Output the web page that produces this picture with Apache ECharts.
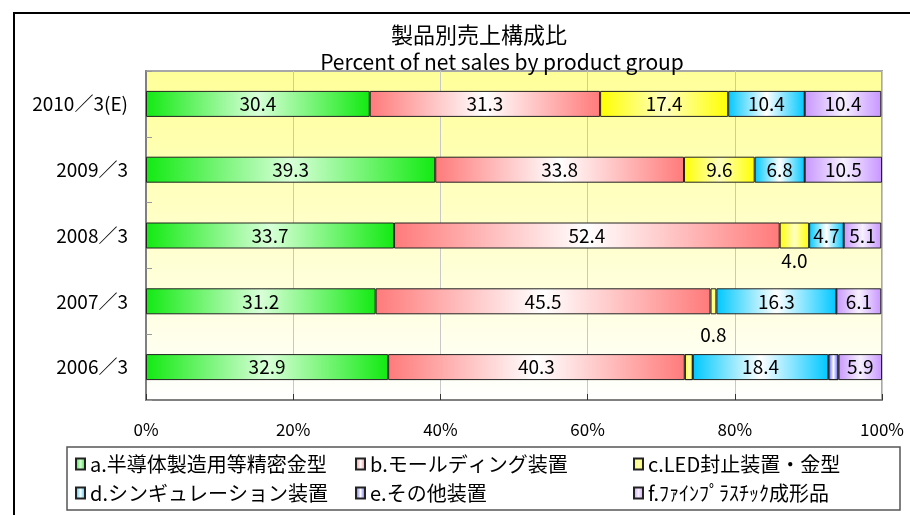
<!DOCTYPE html>
<html>
<head>
    <meta charset="utf-8">
    <script src="https://cdn.jsdelivr.net/npm/echarts@6/dist/echarts.min.js"></script>
</head>
<body style="margin:0">
    <div id="main" style="width: 910px;height:515px;"></div>
    <script type="text/javascript">
        // 年度（下から上へ）
        var years = ['2006／3', '2007／3', '2008／3', '2009／3', '2010／3(E)'];
        var seriesNames = [
            'a.半導体製造用等精密金型',
            'b.モールディング装置',
            'c.LED封止装置・金型',
            'd.シンギュレーション装置',
            'e.その他装置',
            'f.ﾌｧｲﾝﾌﾟﾗｽﾁｯｸ成形品'
        ];
        var valA = [32.9, 31.2, 33.7, 39.3, 30.4];
        var valB = [40.3, 45.5, 52.4, 33.8, 31.3];
        var valC = [1.1, 0.8, 4.0, 9.6, 17.4];
        var valD = [18.4, 16.3, 4.7, 6.8, 10.4];
        var valE = [1.4, 0, 0, 0, 0];
        var valF = [5.9, 6.1, 5.1, 10.5, 10.4];
        var xTicks = [0, 20, 40, 60, 80, 100];

        var allValues = [valA, valB, valC, valD, valE, valF];
        var edgeColors = ['#12EA12', '#FF7A7A', '#FFFF00', '#00C8FF', '#5050FF', '#C896FF'];
        var midColors = ['#D8FFD8', '#FFFFFF', '#FFFFC0', '#FFFFFF', '#FFFFFF', '#F6F0FF'];

        // ラベル位置の調整（seriesIndex-dataIndex）
        var labelTweaks = {
            '2-0': { show: false },
            '4-0': { show: false },
            '2-1': { position: 'bottom', distance: 11 },
            '2-2': { position: 'bottom', distance: 3 }
        };

        var myChart = echarts.init(document.getElementById('main'));
        var font = '"Noto Sans CJK JP", sans-serif';

        var series = allValues.map(function (vals, si) {
            return {
                name: seriesNames[si],
                type: 'bar',
                stack: 'total',
                barWidth: 26,
                itemStyle: {
                    color: new echarts.graphic.LinearGradient(0, 0, 1, 0, [
                        {offset: 0, color: edgeColors[si]},
                        {offset: 0.5, color: midColors[si]},
                        {offset: 1, color: edgeColors[si]}
                    ]),
                    borderColor: '#222',
                    borderWidth: 1
                },
                label: {
                    show: true,
                    position: 'inside',
                    color: '#000',
                    fontSize: 19,
                    fontFamily: font,
                    formatter: function (p) {
                        return p.value > 0 ? p.value.toFixed(1) : '';
                    }
                },
                data: vals.map(function (v, di) {
                    var t = labelTweaks[si + '-' + di];
                    return t ? { value: v, label: t } : v;
                })
            };
        });

        var legendCols = [[0, 3], [1, 4], [2, 5]];
        var legendLeft = [75, 355, 633];

        var option = {
            textStyle: { fontFamily: font },
            title: [
                {
                    text: '製品別売上構成比',
                    left: 474, top: 19, textAlign: 'center',
                    textStyle: { fontSize: 22, fontWeight: 'normal', color: '#000', fontFamily: font }
                },
                {
                    text: 'Percent of net sales by product group',
                    left: 497, top: 47, textAlign: 'center',
                    textStyle: { fontSize: 21, fontWeight: 'normal', color: '#000', fontFamily: font }
                }
            ],
            legend: legendCols.map(function (col, i) {
                return {
                    orient: 'vertical',
                    left: legendLeft[i],
                    top: 454,
                    padding: 0,
                    itemGap: 9,
                    itemWidth: 9,
                    itemHeight: 11,
                    icon: 'rect',
                    textStyle: { fontSize: 20, color: '#000', fontFamily: font },
                    data: col.map(function (k) { return seriesNames[k]; })
                };
            }),
            graphic: [
                {
                    type: 'rect',
                    shape: { x: 14, y: 13, width: 1000, height: 600 },
                    style: { fill: 'none', stroke: '#000', lineWidth: 2 },
                    silent: true
                },
                {
                    type: 'rect',
                    shape: { x: 67, y: 447, width: 833, height: 63 },
                    style: { fill: 'none', stroke: '#555', lineWidth: 1.5 },
                    silent: true
                }
            ],
            grid: {
                left: 146,
                right: 28,
                top: 71,
                bottom: 115,
                show: true,
                borderColor: '#A8A8A8',
                borderWidth: 2,
                backgroundColor: new echarts.graphic.LinearGradient(0, 0, 0, 1, [
                    {offset: 0, color: '#FFFF99'},
                    {offset: 1, color: '#FFFFFF'}
                ])
            },
            xAxis: {
                type: 'value',
                min: xTicks[0],
                max: xTicks[xTicks.length - 1],
                interval: xTicks[1] - xTicks[0],
                axisLine: { show: true, lineStyle: { color: '#808080', width: 2 } },
                axisTick: { show: true, inside: true, length: 6, lineStyle: { color: '#333' } },
                splitLine: { show: true, lineStyle: { color: '#C8C8C8', width: 1 } },
                axisLabel: { formatter: '{value}%', fontSize: 17, color: '#000', margin: 21, fontFamily: font }
            },
            yAxis: {
                type: 'category',
                data: years,
                axisLine: { show: true, lineStyle: { color: '#808080', width: 2 } },
                axisTick: { show: true, inside: true, length: 6, lineStyle: { color: '#999' } },
                axisLabel: { fontSize: 19, color: '#000', margin: 18, fontFamily: font }
            },
            series: series
        };
        myChart.setOption(option);
    </script>
</body>
</html>
